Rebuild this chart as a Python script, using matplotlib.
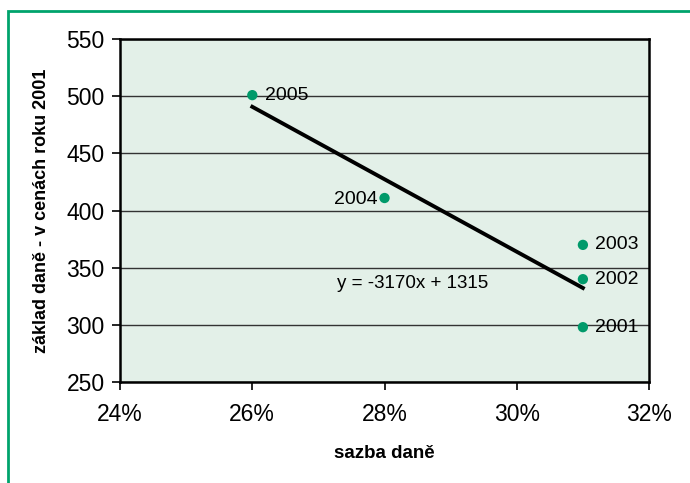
import matplotlib.pyplot as plt
from matplotlib.patches import Rectangle
from matplotlib.ticker import FuncFormatter
import numpy as np

plt.rcParams['font.family'] = ['Liberation Sans', 'DejaVu Sans']

# data
rates = [0.31, 0.31, 0.31, 0.28, 0.26]
base = [298, 340, 370, 411, 501]
years = ['2001', '2002', '2003', '2004', '2005']
slope = -3170
intercept = 1315

fig = plt.figure(figsize=(6.9, 4.83), dpi=100)
ax = fig.add_axes([0.174, 0.209, 0.7666, 0.710])

# green frame round the chart
fig.patches.append(Rectangle((0.0116, -0.1), 1.2, 0.1 + 0.977, transform=fig.transFigure,
                             fill=False, edgecolor='#00a36c', linewidth=2))

ax.set_facecolor('#e3f0e8')
ax.set_xlim(0.24, 0.32)
ax.set_ylim(250, 550)
ax.set_xticks(np.arange(0.24, 0.3201, 0.02))
ax.set_yticks(np.arange(250, 551, 50))
ax.xaxis.set_major_formatter(FuncFormatter(lambda v, p: '%d%%' % round(v * 100)))
ax.grid(axis='y', color='#333333', linewidth=1)
ax.set_axisbelow(True)

for s in ax.spines.values():
    s.set_linewidth(1.8)
ax.tick_params(axis='both', direction='out', length=6, width=1.2, labelsize=16.5)
ax.tick_params(axis='x', pad=9)
ax.tick_params(axis='y', pad=5)

# trend line over data range
xs = np.array([min(rates), max(rates)])
ax.plot(xs, slope * xs + intercept, color='black', linewidth=2.8, zorder=3)

ax.scatter(rates, base, s=55, color='#009a6a', zorder=4, edgecolors='none')

for x, y, t in zip(rates, base, years):
    if t == '2004':
        ax.annotate(t, (x, y), xytext=(-5, -1), textcoords='offset points',
                    ha='right', va='center', fontsize=14)
    else:
        ax.annotate(t, (x, y), xytext=(9, 0), textcoords='offset points',
                    ha='left', va='center', fontsize=14)

ax.text(0.2843, 336, 'y = -3170x + 1315', fontsize=13.5, ha='center', va='center')

ax.set_xlabel('sazba daně', fontsize=13.5, fontweight='bold', labelpad=14)
ax.set_ylabel('základ daně - v cenách roku 2001', fontsize=13, fontweight='bold', labelpad=12)

fig.savefig('out.png', dpi=100)
